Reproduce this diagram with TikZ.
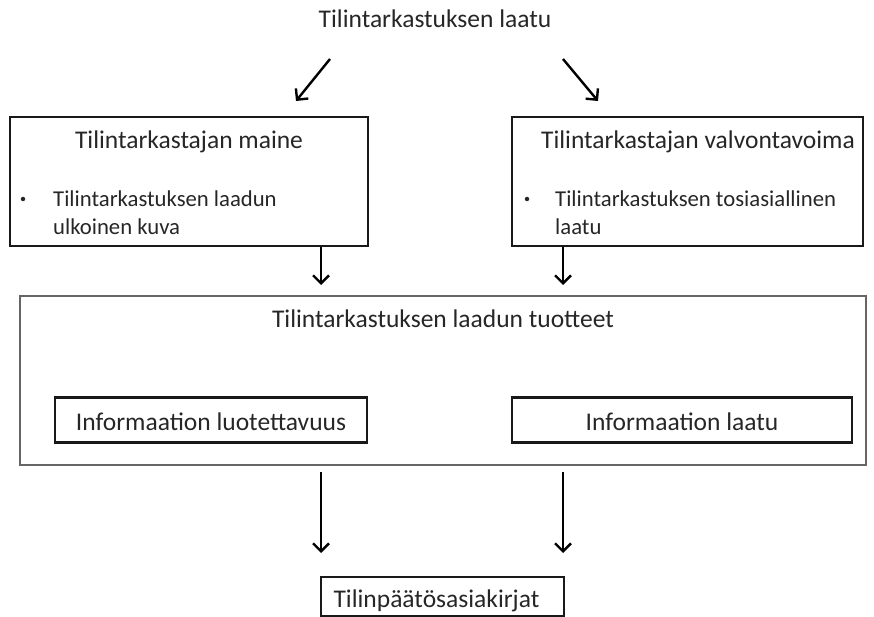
\documentclass[tikz,border=0pt]{standalone}
\usepackage{fontspec}
\setmainfont{Carlito}
\usetikzlibrary{arrows.meta}
\begin{document}
\begin{tikzpicture}[x=1pt,y=-1pt,
  txt/.style={inner sep=0pt,text=black!85,font=\fontsize{25.5}{30}\selectfont},
  small/.style={inner sep=0pt,text=black!85,font=\fontsize{22.7}{28}\selectfont},
  dot/.style={circle,fill=black!85,inner sep=0pt,minimum size=4.5pt},
  bigbox/.style={draw=black!90,line width=2.8pt,inner sep=0pt},
  outerbox/.style={draw=black!60,line width=1.3pt,inner sep=0pt},
  innerbox/.style={draw=black!90,line width=2.4pt,inner sep=0pt},
  arr/.style={line width=2.4pt,-{Straight Barb[length=8pt,width=16pt,line width=2.4pt]}}]
\useasboundingbox (0,0) rectangle (874,617);

% heading
\node[txt,anchor=base] (title) at (435,28) {Tilintarkastuksen laatu};

% upper boxes
\node[bigbox,minimum width=358pt,minimum height=129pt] (lbox) at (189,181.5) {};
\node[bigbox,minimum width=351pt,minimum height=129pt] (rbox) at (687.5,181.5) {};
\node[txt,anchor=base] (lhead) at (189,149) {Tilintarkastajan maine};
\node[txt,anchor=base] (rhead) at (698,149) {Tilintarkastajan valvontavoima};
\node[dot] (lbul) at (23,199) {};
\node[small,anchor=base west] (ltext1) at (53,207) {Tilintarkastuksen laadun};
\node[small,anchor=base west] (ltext2) at (53,235) {ulkoinen kuva};
\node[dot] (rbul) at (527,199) {};
\node[small,anchor=base west] (rtext1) at (555,207) {Tilintarkastuksen tosiasiallinen};
\node[small,anchor=base west] (rtext2) at (555,235) {laatu};

% products box
\node[outerbox,minimum width=846pt,minimum height=169pt] (pbox) at (443,380.5) {};
\node[txt,anchor=base] (phead) at (443,327) {Tilintarkastuksen laadun tuotteet};
\node[innerbox,minimum width=312pt,minimum height=45pt] (ibox1) at (211,420) {};
\node[innerbox,minimum width=340pt,minimum height=45pt] (ibox2) at (682,420) {};
\node[txt,anchor=base] (itext1) at (211,430) {Informaation luotettavuus};
\node[txt,anchor=base] (itext2) at (682,430) {Informaation laatu};

% bottom box
\node[innerbox,minimum width=243pt,minimum height=39pt] (fbox) at (442.5,596.5) {};
\node[txt,anchor=base] (ftext) at (436.5,607) {Tilinpäätösasiakirjat};

% connector end points
\coordinate (d1s) at (330,59);
\coordinate (d1e) at (296,101);
\coordinate (d2s) at (563,59);
\coordinate (d2e) at (598,101);
\coordinate (v1e) at (321,285);
\coordinate (v2e) at (563,285);
\coordinate (w1s) at (321,472);
\coordinate (w1e) at (321,553);
\coordinate (w2s) at (563,472);
\coordinate (w2e) at (563,553);

\draw[arr] (d1s) -- (d1e);
\draw[arr] (d2s) -- (d2e);
\draw[arr] (lbox.south -| v1e) -- (v1e);
\draw[arr] (rbox.south -| v2e) -- (v2e);
\draw[arr] (w1s) -- (w1e);
\draw[arr] (w2s) -- (w2e);
\end{tikzpicture}
\end{document}
